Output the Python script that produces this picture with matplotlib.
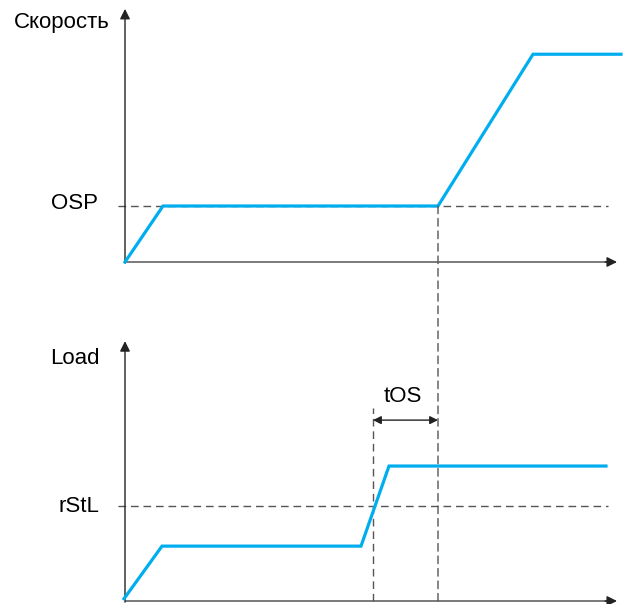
import matplotlib
matplotlib.use("Agg")
import matplotlib.pyplot as plt
from matplotlib.patches import ConnectionPatch

plt.rcParams['font.family'] = ['Liberation Sans', 'DejaVu Sans']

# ---- data ----
speed_t = [0.0, 3.8, 31.3, 40.8, 49.6]
speed_v = [0.0, 1.0, 1.0, 3.71, 3.71]
OSP = 1.0

load_t = [-0.1, 3.7, 23.6, 26.4, 48.1]
load_v = [0.04, 0.98, 0.98, 2.41, 2.41]
rStL = 1.7

t_rstl = 24.8   # load crosses rStL
t_os = 31.3     # end of tOS
speed_label = "Скорость"
load_label = "Load"
labels_levels = ["OSP", "rStL"]
tos_label = "tOS"

BLUE = '#00AEEF'
DASH = '#555555'
AX = '#222222'
AXG = '#7a7a7a'

W, H = 627, 604
fig = plt.figure(figsize=(W / 100, H / 100), dpi=100)

px_per_t = 10.0
px_per_v = 56.0
x0 = 125

def make_ax(y_base, y_top):
    ax = fig.add_axes([x0 / W, (H - y_base) / H, 500 / W, (y_base - y_top) / H])
    ax.set_xlim(0, 500 / px_per_t)
    ax.set_ylim(0, (y_base - y_top) / px_per_v)
    ax.axis('off')
    return ax

ax1 = make_ax(262, 0)
ax2 = make_ax(601, 300)

def axes_arrows(ax, ytip):
    ax.annotate('', xy=(0, ytip), xytext=(0, -0.02),
                arrowprops=dict(arrowstyle='-|>', color=AX, lw=1.0,
                                mutation_scale=15, shrinkA=0, shrinkB=0),
                annotation_clip=False)
    ax.plot([0, 48.2], [0, 0], color=AXG, lw=1.4, solid_capstyle='butt', clip_on=False)
    ax.annotate('', xy=(49.2, 0), xytext=(48.0, 0),
                arrowprops=dict(arrowstyle='-|>', color=AX, lw=1.0,
                                mutation_scale=15, shrinkA=0, shrinkB=0),
                annotation_clip=False)

axes_arrows(ax1, 4.52)
axes_arrows(ax2, 4.64)

dash_kw = dict(color=DASH, lw=1.0, dashes=(5.5, 3.5), clip_on=False)

# level lines
ax1.plot([-0.7, 48.3], [OSP, OSP], **dash_kw)
ax2.plot([-0.7, 48.3], [rStL, rStL], **dash_kw)

# vertical dashed at tOS end through both panels
con = ConnectionPatch(xyA=(t_os, OSP), coordsA=ax1.transData,
                      xyB=(t_os, 0), coordsB=ax2.transData,
                      color=DASH, lw=1.0, linestyle=(0, (5.5, 3.5)))
fig.add_artist(con)
ax2.plot([t_rstl, t_rstl], [0, 3.45], **dash_kw)

# curves
ax1.plot(speed_t, speed_v, color=BLUE, lw=2.3, solid_joinstyle='miter', clip_on=False, zorder=5)
ax2.plot(load_t, load_v, color=BLUE, lw=2.3, solid_joinstyle='miter', clip_on=False, zorder=5)

# tOS arrow
ax2.annotate('', xy=(t_rstl, 3.23), xytext=(t_os, 3.23),
             arrowprops=dict(arrowstyle='<|-|>', color=AX, lw=1.0,
                             mutation_scale=12, shrinkA=0, shrinkB=0))
ax2.text((t_rstl + t_os) / 2 - 0.3, 3.55, tos_label, ha='center', va='baseline', fontsize=16)

# labels
fs = 16
ax1.text(-1.5, 4.18, speed_label, ha='right', va='baseline', fontsize=fs)
ax1.text(-2.7, 0.946, labels_levels[0], ha='right', va='baseline', fontsize=fs)
ax2.text(-2.5, 4.23, load_label, ha='right', va='baseline', fontsize=fs)
ax2.text(-2.6, 1.59, labels_levels[1], ha='right', va='baseline', fontsize=fs)

fig.savefig('out.png', dpi=100)
